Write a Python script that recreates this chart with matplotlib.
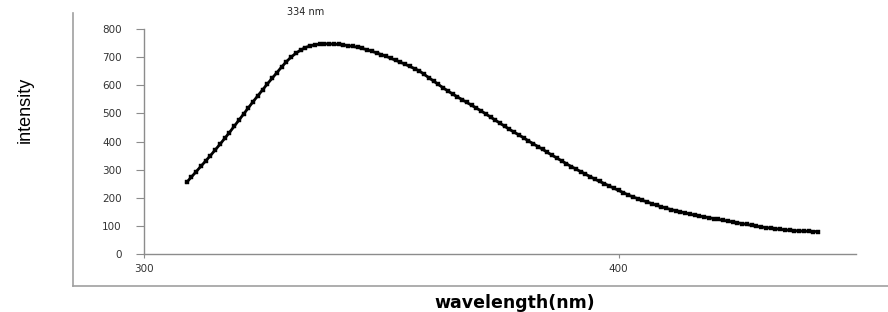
import matplotlib
matplotlib.use("Agg")
import matplotlib.pyplot as plt
from matplotlib.lines import Line2D

# emission spectrum, one point per nm
wavelength = list(range(309, 443))
intensity = [
    255, 274, 293, 312, 331, 350, 370, 390, 411, 432,   # 309-318
    454, 476, 498, 520, 542, 563, 584, 605, 625, 645,   # 319-328
    665, 684, 700, 714, 725, 734, 740, 744, 746, 747,   # 329-338
    747, 746, 745, 743, 741, 738, 735, 731, 726, 721,   # 339-348
    715, 709, 703, 696, 689, 682, 675, 667, 659, 651,   # 349-358
    639, 627, 615, 603, 591, 580, 569, 559, 549, 539,   # 359-368
    529, 519, 509, 498, 487, 476, 465, 454, 443, 433,   # 369-378
    423, 413, 402, 392, 382, 372, 361, 351, 341, 331,   # 379-388
    321, 311, 302, 293, 284, 275, 266, 258, 250, 242,   # 389-398
    234, 226, 218, 210, 203, 197, 191, 185, 179, 173,   # 399-408
    168, 163, 158, 154, 150, 146, 142, 138, 135, 132,   # 409-418
    129, 126, 123, 120, 117, 114, 111, 108, 105, 102,   # 419-428
    99, 96, 94, 92, 90, 88, 86, 84, 83, 82,             # 429-438
    81, 81, 80, 80,                                     # 439-442
]
peak_label = "334 nm"
peak_pos = (334, 862)
x_ticks = [300, 400]
y_ticks = [0, 100, 200, 300, 400, 500, 600, 700, 800]

fig = plt.figure(figsize=(8.88, 3.12), dpi=100)

# outer chart frame (left and bottom only, like the clipped Excel chart area)
fig.add_artist(Line2D([73 / 888, 73 / 888], [1 - 286 / 312, 1 - 13 / 312],
                      color="#a0a0a0", lw=1.2, transform=fig.transFigure))
fig.add_artist(Line2D([73 / 888, 1.0], [1 - 286 / 312, 1 - 286 / 312],
                      color="#a0a0a0", lw=1.2, transform=fig.transFigure))

ax = fig.add_axes([144 / 888, 58 / 312, (856 - 144) / 888, (254 - 29) / 312])
ax.plot(wavelength, intensity, linestyle="-", lw=2.0, marker="s", markersize=3.2,
        color="black", markeredgewidth=0.3)

ax.set_xlim(300, 450)
ax.set_ylim(0, 800)
ax.set_xticks(x_ticks)
ax.set_yticks(y_ticks)

for s in ("top", "right"):
    ax.spines[s].set_visible(False)
for s in ("left", "bottom"):
    ax.spines[s].set_color("#8c8c8c")
    ax.spines[s].set_linewidth(1.0)

ax.tick_params(axis="y", direction="out", length=6, width=0.8, color="#8c8c8c",
               labelsize=7.5, labelcolor="#333333", pad=10)
ax.tick_params(axis="x", direction="out", length=3, width=0.8, color="#8c8c8c",
               labelsize=7.5, labelcolor="#333333", pad=4)

ax.annotate(peak_label, xy=peak_pos, ha="center", va="center", fontsize=7,
            color="#222222", annotation_clip=False)

fig.text(515 / 888, 1 - 303 / 312, "wavelength(nm)", ha="center", va="center",
         fontsize=12.5, fontweight="bold", family="DejaVu Sans")
fig.text(25 / 888, 1 - 110 / 312, "intensity", ha="center", va="center",
         rotation=90, fontsize=13, family=["Liberation Sans Narrow", "Liberation Sans"])

fig.savefig("out.png", dpi=100)
